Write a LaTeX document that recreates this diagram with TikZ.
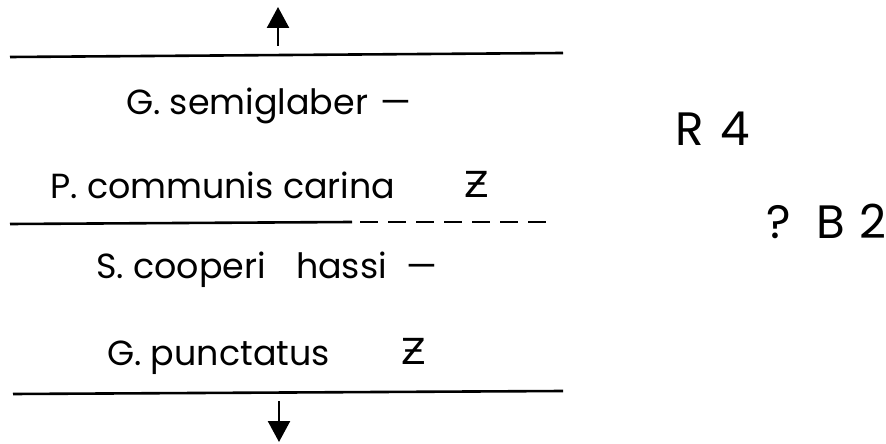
\documentclass[tikz,border=0pt]{standalone}
\usepackage{fontspec}
\setmainfont{Poppins}
\newfontfamily\zfont{DejaVu Sans}
\usetikzlibrary{arrows.meta}
\newcommand{\sdash}{\hspace{0.35em}—}
\begin{document}
\begin{tikzpicture}[x=1bp,y=-1bp,
  rule/.style={line width=2.6bp,black},
  species/.style={anchor=base west,inner sep=0pt,font=\fontsize{35}{40}\selectfont},
  zsign/.style={anchor=base west,inner sep=0pt,font=\zfont\fontsize{36}{40}\selectfont},
  zone/.style={anchor=base west,inner sep=0pt,font=\fontsize{47}{50}\selectfont},
  updown/.style={line width=2.4bp,-{Triangle[width=22bp,length=21bp]}}]
\useasboundingbox (0,0) rectangle (886,444);
% horizon boundaries
\coordinate (t1) at (10,57); \coordinate (t2) at (563,53);
\coordinate (m1) at (10,224); \coordinate (m2) at (352,222); \coordinate (m3) at (555,222);
\coordinate (b1) at (13,394); \coordinate (b2) at (563,391);
\draw[rule] (t1) -- (t2);
\draw[rule] (m1) -- (m2);
\draw[rule,dash pattern=on 18bp off 10bp] (m2) ++(8,0) coordinate (m2b) (m2b) -- (m3);
\draw[rule] (b1) -- (b2);
% arrows
\coordinate (ua) at (278,46); \coordinate (ub) at (278,7);
\coordinate (da) at (279,401); \coordinate (db) at (279,442);
\draw[updown] (ua) -- (ub);
\draw[updown] (da) -- (db);
% species
\node[species] (s1) at (126,115) {G. semiglaber\sdash};
\node[species] (s2) at (50,199) {P. communis carina};
\node[zsign] (z2) at (464,198) {Ƶ};
\node[species] (s3) at (96,279) {S. cooperi\hspace{0.6em} hassi\hspace{0.2em}\sdash};
\node[species] (s4) at (107,366) {G. punctatus};
\node[zsign] (z4) at (401,365) {Ƶ};
% zones
\node[zone] (r4) at (675,146) {R\hspace{0.35em}4};
\node[zone] (b2z) at (766,239) {?\hspace{0.55em}B\hspace{0.3em}2};
\end{tikzpicture}
\end{document}
